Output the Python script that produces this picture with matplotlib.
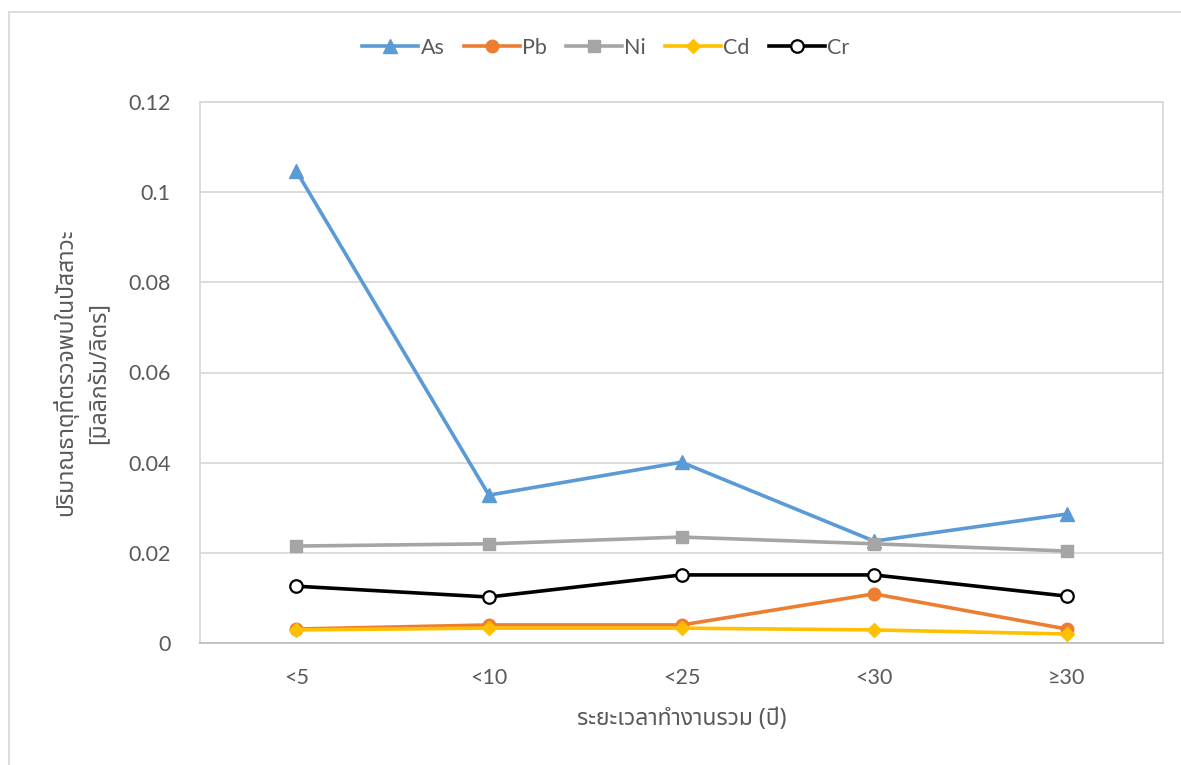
import matplotlib
matplotlib.use("Agg")
import matplotlib.pyplot as plt
from matplotlib import font_manager
from matplotlib.ft2font import FT2Font
from matplotlib.lines import Line2D

# data
categories = ["<5", "<10", "<25", "<30", "≥30"]
as_vals = [0.1047, 0.0328, 0.0401, 0.0226, 0.0286]
pb_vals = [0.0031, 0.0040, 0.0040, 0.0109, 0.0031]
ni_vals = [0.0215, 0.0220, 0.0235, 0.0220, 0.0204]
cd_vals = [0.0029, 0.0033, 0.0033, 0.0029, 0.0020]
cr_vals = [0.0126, 0.0102, 0.0151, 0.0151, 0.0104]
y_ticks = [0, 0.02, 0.04, 0.06, 0.08, 0.1, 0.12]
y_tick_labels = ["0", "0.02", "0.04", "0.06", "0.08", "0.1", "0.12"]

x_label = "ระยะเวลาทำงานรวม (ปี)"
y_label = "ปริมาณธาตุที่ตรวจพบในปัสสาวะ\n[มิลลิกรัม/ลิตร]"


def find_thai_font():
    # pick any installed font that has Thai glyphs
    preferred = ["Noto Sans Thai", "Noto Sans Thai UI", "Noto Serif Thai", "Loma",
                 "Garuda", "Tlwg Typo", "Sarabun", "Noto Sans"]
    fonts = {}
    for f in font_manager.fontManager.ttflist:
        fonts.setdefault(f.name, f.fname)
    def has_thai(path):
        try:
            ft = FT2Font(path)
            return all(ft.get_char_index(ord(c)) != 0 for c in "กปมธ")
        except Exception:
            return False
    for name in preferred:
        if name in fonts and has_thai(fonts[name]):
            return name
    for name, path in sorted(fonts.items()):
        if has_thai(path):
            return name
    return None


thai_font = find_thai_font()
thai_family = [thai_font, "DejaVu Sans"] if thai_font else ["DejaVu Sans"]

plt.rcParams["font.family"] = ["Lato", "DejaVu Sans"]
text_color = "#595959"
grid_color = "#d9d9d9"

fig = plt.figure(figsize=(11.81, 7.65), dpi=100)
ax = fig.add_axes([200 / 1181, 122 / 765, 963 / 1181, 541 / 765])

x = range(len(categories))
lw = 2.6
ax.plot(x, as_vals, color="#5b9bd5", lw=lw, marker="^", ms=10, label="As", zorder=3)
ax.plot(x, pb_vals, color="#ed7d31", lw=lw, marker="o", ms=9, label="Pb", zorder=3)
ax.plot(x, ni_vals, color="#a5a5a5", lw=lw, marker="s", ms=8.5, label="Ni", zorder=3)
ax.plot(x, cd_vals, color="#ffc000", lw=lw, marker="D", ms=7, label="Cd", zorder=4)
ax.plot(x, cr_vals, color="black", lw=lw, marker="o", ms=9, mfc="white",
        mec="black", mew=1.6, label="Cr", zorder=3)

ax.set_xlim(-0.5, len(categories) - 0.5)
ax.set_ylim(0, 0.12)
ax.set_xticks(list(x))
ax.set_xticklabels(categories)
ax.set_yticks(y_ticks)
ax.set_yticklabels(y_tick_labels)
ax.tick_params(length=0, labelsize=15.5, colors=text_color)
ax.tick_params(axis="x", pad=18)
ax.tick_params(axis="y", pad=21)
ax.yaxis.grid(True, color=grid_color, lw=1.3)
ax.set_axisbelow(True)
for side in ["left", "right", "top", "bottom"]:
    ax.spines[side].set_color(grid_color)
    ax.spines[side].set_linewidth(1.3)
ax.spines["bottom"].set_color("#bfbfbf")

ax.set_xlabel(x_label, family=thai_family, fontsize=16.5, color=text_color, labelpad=14)
ax.set_ylabel(y_label, family=thai_family, fontsize=16.5, color=text_color,
              labelpad=12, linespacing=1.55)

leg = fig.legend(loc="center", bbox_to_anchor=(606 / 1181, 1 - 48 / 765), ncol=5,
                 frameon=False, fontsize=15.5, handlelength=2.6, columnspacing=0.9,
                 handletextpad=0.1)
for t in leg.get_texts():
    t.set_color(text_color)

# outer chart frame
fig.add_artist(Line2D([9 / 1181, 1], [1 - 12 / 765, 1 - 12 / 765],
                      color=grid_color, lw=1.3, transform=fig.transFigure))
fig.add_artist(Line2D([9 / 1181, 9 / 1181], [0, 1 - 12 / 765],
                      color=grid_color, lw=1.3, transform=fig.transFigure))

fig.savefig("out.png", dpi=100)
